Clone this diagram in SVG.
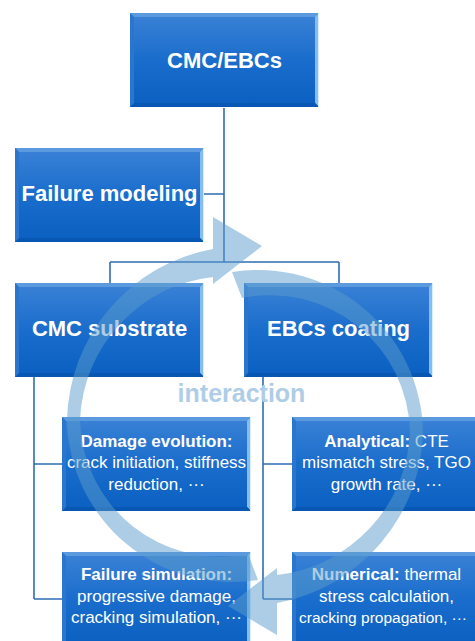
<svg xmlns="http://www.w3.org/2000/svg" width="475" height="641" viewBox="0 0 475 641">
<style>
.h{font-family:"Liberation Sans",Arial,sans-serif;font-size:22px;font-weight:bold;fill:#ffffff;text-anchor:middle}
.s{font-family:"Liberation Sans",Arial,sans-serif;font-size:17px;fill:#ffffff;text-anchor:middle}
.b{font-weight:bold}
.conn{stroke:#2f6db5;stroke-width:1.6;fill:none}
.arc{fill:#5a9bcb;opacity:0.5}
.inter{font-family:"Liberation Sans",Arial,sans-serif;font-size:25px;font-weight:bold;fill:#afcde6;text-anchor:middle}
</style>
<defs>
<linearGradient id="boxfill" x1="0" y1="0" x2="0" y2="1">
<stop offset="0" stop-color="#3b82d6"/>
<stop offset="0.5" stop-color="#1a6dcc"/>
<stop offset="1" stop-color="#0a5fc0"/>
</linearGradient>
<g id="box">
<rect x="0" y="0" width="189" height="94" fill="url(#boxfill)"/>
<polygon points="0,0 189,0 185,4 4,4" fill="#5c9ae0"/>
<polygon points="189,0 189,94 185,90 185,4" fill="#86bdf0"/>
<polygon points="0,94 189,94 185,90 4,90" fill="#0857b3"/>
<polygon points="0,0 4,4 4,90 0,94" fill="#2a76cf"/>
<line x1="188.5" y1="0" x2="188.5" y2="94" stroke="#d6ecff" stroke-width="1"/>
</g>
<path id="circarrow" d="M258,580 A165,165 0 0 1 67,420 A178,178 0 0 1 213,249 L213,217 L262,246 L213,284 L213,277 A150,150 0 0 0 80,420 A140,140 0 0 0 248,554 Z"/>
</defs>

<g id="connectors">
<path class="conn" d="M224,108 V262 M204,194 H224 M110,262 H339 M110,262 V283 M339,262 V283"/>
<path class="conn" d="M34,377 V599 M34,464 H62 M34,599 H62"/>
<path class="conn" d="M263,377 V599 M263,464 H292 M263,599 H292"/>
</g>

<g id="cmc-ebcs">
<use href="#box" x="130" y="13"/>
<text class="h" x="224.5" y="68">CMC/EBCs</text>
</g>
<g id="failure-modeling">
<use href="#box" x="15" y="148"/>
<text class="h" x="109.5" y="201">Failure modeling</text>
</g>
<g id="cmc-substrate">
<use href="#box" x="15" y="283"/>
<text class="h" x="109.5" y="336">CMC substrate</text>
</g>
<g id="ebcs-coating">
<use href="#box" x="244" y="283"/>
<text class="h" x="338.5" y="336">EBCs coating</text>
</g>
<g id="damage-evolution">
<use href="#box" x="62" y="417"/>
<text class="s b" x="156.5" y="447">Damage evolution:</text>
<text class="s" x="156.5" y="468">crack initiation, stiffness</text>
<text class="s" x="156.5" y="490">reduction, ···</text>
</g>
<g id="analytical">
<use href="#box" x="292" y="417"/>
<text class="s" x="386.5" y="447"><tspan class="b">Analytical:</tspan> CTE</text>
<text class="s" x="386.5" y="468">mismatch stress, TGO</text>
<text class="s" x="386.5" y="490">growth rate, ···</text>
</g>
<g id="failure-simulation">
<use href="#box" x="62" y="552"/>
<text class="s b" x="156.5" y="580">Failure simulation:</text>
<text class="s" x="156.5" y="602">progressive damage,</text>
<text class="s" x="156.5" y="623">cracking simulation, ···</text>
</g>
<g id="numerical">
<use href="#box" x="292" y="552"/>
<text class="s" x="386.5" y="580"><tspan class="b">Numerical:</tspan> thermal</text>
<text class="s" x="386.5" y="602">stress calculation,</text>
<text class="s" x="383" y="623" style="font-size:15.5px">cracking propagation, ···</text>
</g>

<g id="interaction">
<use href="#circarrow" class="arc"/>
<use href="#circarrow" class="arc" transform="rotate(180 245 426)"/>
<text class="inter" x="241.5" y="402">interaction</text>
</g>
</svg>
